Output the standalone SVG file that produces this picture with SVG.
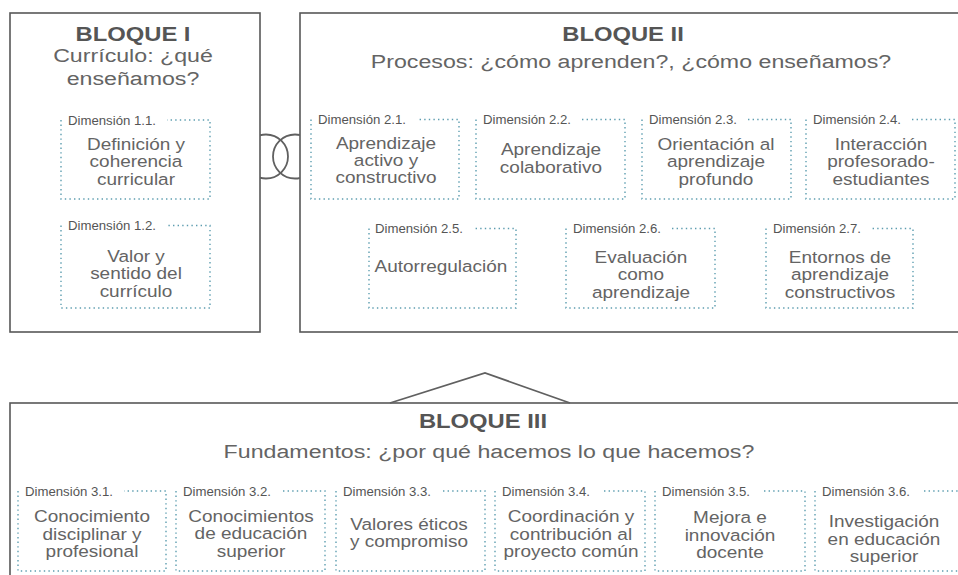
<svg xmlns="http://www.w3.org/2000/svg" width="958" height="575" viewBox="0 0 958 575">
<style>
.blk{fill:#fff;stroke:#585858;stroke-width:1.6}
.dot{fill:none;stroke:#5d9db0;stroke-width:1.4;stroke-dasharray:1.4 3.2}
.t{font-family:"Liberation Sans",Arial,sans-serif;fill:#646464;text-anchor:middle;transform-box:fill-box;transform-origin:center}
.b{font-size:16.5px;transform:scaleX(1.15)}
.h{font-size:20px;font-weight:bold;fill:#555;transform:scaleX(1.19)}
.s{font-size:19px;transform:scaleX(1.22)}
.l{font-family:"Liberation Sans",Arial,sans-serif;font-size:13px;fill:#555}
.ln{fill:none;stroke:#606060;stroke-width:1.8}
</style>
<defs>
<clipPath id="gap"><rect x="260" y="120" width="40" height="80"/></clipPath>
</defs>
<rect width="958" height="575" fill="#fff"/>

<g id="bloque-1">
<rect class="blk" x="10" y="13" width="250" height="319"/>
<text class="t h" x="133" y="41">BLOQUE I</text>
<text class="t s" x="133" y="62">Currículo: ¿qué</text>
<text class="t s" x="133" y="85">enseñamos?</text>
</g>
<g id="bloque-2">
<rect class="blk" x="300" y="13" width="680" height="319"/>
<text class="t h" x="623" y="41">BLOQUE II</text>
<text class="t s" x="631" y="68">Procesos: ¿cómo aprenden?, ¿cómo enseñamos?</text>
</g>
<g id="bloque-3">
<rect class="blk" x="10" y="403" width="980" height="200"/>
<text class="t h" x="483" y="428">BLOQUE III</text>
<text class="t s" x="489" y="458">Fundamentos: ¿por qué hacemos lo que hacemos?</text>
</g>

<g id="connectors">
<g clip-path="url(#gap)">
<circle class="ln" cx="266" cy="156.5" r="22"/>
<circle class="ln" cx="295" cy="156.5" r="22"/>
</g>
<polyline class="ln" points="390,403 485,373 570,403"/>
</g>

<g id="dim-1-1">
<path class="dot" d="M61 120V199H210V120H167"/>
<text class="l" x="68" y="124.5" textLength="88" lengthAdjust="spacingAndGlyphs">Dimensión 1.1.</text>
<text class="t b" x="136" y="150">Definición y</text>
<text class="t b" x="136" y="167.5">coherencia</text>
<text class="t b" x="136" y="185.5">curricular</text>
</g>
<g id="dim-1-2">
<path class="dot" d="M61 225.5V308H210V225.5H167"/>
<text class="l" x="68" y="230" textLength="88" lengthAdjust="spacingAndGlyphs">Dimensión 1.2.</text>
<text class="t b" x="136" y="262">Valor y</text>
<text class="t b" x="136" y="279.5">sentido del</text>
<text class="t b" x="136" y="297.5">currículo</text>
</g>

<g id="dim-2-1">
<path class="dot" d="M311 119.5V199H459V119.5H417"/>
<text class="l" x="318" y="124" textLength="88" lengthAdjust="spacingAndGlyphs">Dimensión 2.1.</text>
<text class="t b" x="386" y="149">Aprendizaje</text>
<text class="t b" x="386" y="166">activo y</text>
<text class="t b" x="386" y="183.5">constructivo</text>
</g>
<g id="dim-2-2">
<path class="dot" d="M476 119.5V199H625V119.5H582"/>
<text class="l" x="483" y="124" textLength="88" lengthAdjust="spacingAndGlyphs">Dimensión 2.2.</text>
<text class="t b" x="551" y="155.5">Aprendizaje</text>
<text class="t b" x="551" y="173">colaborativo</text>
</g>
<g id="dim-2-3">
<path class="dot" d="M642 119.5V199H791V119.5H748"/>
<text class="l" x="649" y="124" textLength="88" lengthAdjust="spacingAndGlyphs">Dimensión 2.3.</text>
<text class="t b" x="716" y="150">Orientación al</text>
<text class="t b" x="716" y="167.5">aprendizaje</text>
<text class="t b" x="716" y="185.5">profundo</text>
</g>
<g id="dim-2-4">
<path class="dot" d="M806 119.5V199H955V119.5H912"/>
<text class="l" x="813" y="124" textLength="88" lengthAdjust="spacingAndGlyphs">Dimensión 2.4.</text>
<text class="t b" x="881" y="150">Interacción</text>
<text class="t b" x="881" y="167.5">profesorado-</text>
<text class="t b" x="881" y="185.5">estudiantes</text>
</g>
<g id="dim-2-5">
<path class="dot" d="M369 228.5V308H516V228.5H475"/>
<text class="l" x="375" y="233" textLength="88" lengthAdjust="spacingAndGlyphs">Dimensión 2.5.</text>
<text class="t b" x="441" y="272">Autorregulación</text>
</g>
<g id="dim-2-6">
<path class="dot" d="M566 228.5V308H715V228.5H672"/>
<text class="l" x="573" y="233" textLength="88" lengthAdjust="spacingAndGlyphs">Dimensión 2.6.</text>
<text class="t b" x="641" y="263">Evaluación</text>
<text class="t b" x="641" y="280.5">como</text>
<text class="t b" x="641" y="298">aprendizaje</text>
</g>
<g id="dim-2-7">
<path class="dot" d="M766 228.5V308H913V228.5H872"/>
<text class="l" x="773" y="233" textLength="88" lengthAdjust="spacingAndGlyphs">Dimensión 2.7.</text>
<text class="t b" x="840" y="263">Entornos de</text>
<text class="t b" x="840" y="280.5">aprendizaje</text>
<text class="t b" x="840" y="298">constructivos</text>
</g>

<g id="dim-3-1">
<path class="dot" d="M18 491V571H166V491H124"/>
<text class="l" x="25" y="495.5" textLength="88" lengthAdjust="spacingAndGlyphs">Dimensión 3.1.</text>
<text class="t b" x="92" y="522.5">Conocimiento</text>
<text class="t b" x="92" y="540">disciplinar y</text>
<text class="t b" x="92" y="557.5">profesional</text>
</g>
<g id="dim-3-2">
<path class="dot" d="M176 491V571H325V491H282"/>
<text class="l" x="183" y="495.5" textLength="88" lengthAdjust="spacingAndGlyphs">Dimensión 3.2.</text>
<text class="t b" x="251" y="522">Conocimientos</text>
<text class="t b" x="251" y="539.5">de educación</text>
<text class="t b" x="251" y="557">superior</text>
</g>
<g id="dim-3-3">
<path class="dot" d="M336 491V571H485V491H442"/>
<text class="l" x="343" y="495.5" textLength="88" lengthAdjust="spacingAndGlyphs">Dimensión 3.3.</text>
<text class="t b" x="409" y="530">Valores éticos</text>
<text class="t b" x="409" y="547.5">y compromiso</text>
</g>
<g id="dim-3-4">
<path class="dot" d="M495 491V571H645V491H602"/>
<text class="l" x="502" y="495.5" textLength="88" lengthAdjust="spacingAndGlyphs">Dimensión 3.4.</text>
<text class="t b" x="571" y="522.5">Coordinación y</text>
<text class="t b" x="571" y="540">contribución al</text>
<text class="t b" x="571" y="557.5">proyecto común</text>
</g>
<g id="dim-3-5">
<path class="dot" d="M655 491V571H805V491H762"/>
<text class="l" x="662" y="495.5" textLength="88" lengthAdjust="spacingAndGlyphs">Dimensión 3.5.</text>
<text class="t b" x="730" y="523">Mejora e</text>
<text class="t b" x="730" y="541">innovación</text>
<text class="t b" x="730" y="558.5">docente</text>
</g>
<g id="dim-3-6">
<path class="dot" d="M815 491V571H965V491H922"/>
<text class="l" x="822" y="495.5" textLength="88" lengthAdjust="spacingAndGlyphs">Dimensión 3.6.</text>
<text class="t b" x="884" y="527">Investigación</text>
<text class="t b" x="884" y="545">en educación</text>
<text class="t b" x="884" y="562">superior</text>
</g>
</svg>
